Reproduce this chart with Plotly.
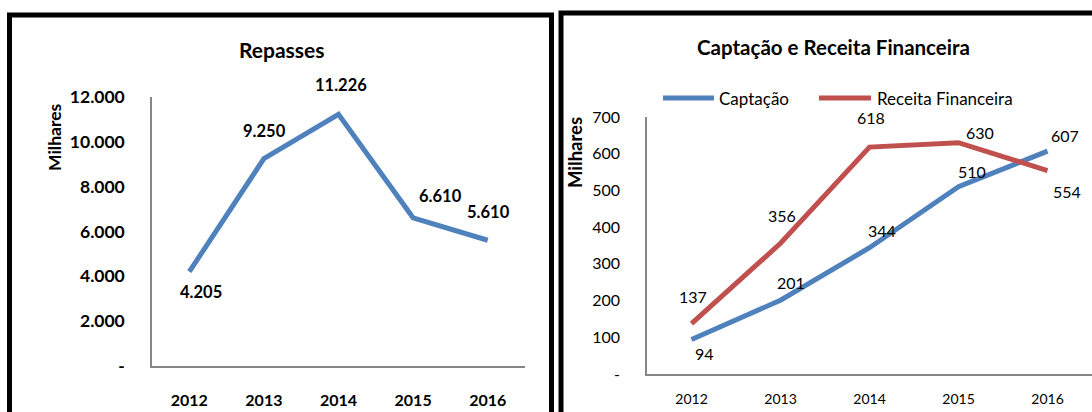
import plotly.graph_objects as go

# ---------------- data ----------------
years = ["2012", "2013", "2014", "2015", "2016"]
repasses = [4205, 9250, 11226, 6610, 5610]
repasses_labels = ["4.205", "9.250", "11.226", "6.610", "5.610"]

captacao = [94, 201, 344, 510, 607]
receita = [137, 356, 618, 630, 554]

left_yticks = [0, 2000, 4000, 6000, 8000, 10000, 12000]
left_yticktext = ["-", "2.000", "4.000", "6.000", "8.000", "10.000", "12.000"]
right_yticks = [0, 100, 200, 300, 400, 500, 600, 700]
right_yticktext = ["-", "100", "200", "300", "400", "500", "600", "700"]

# label offsets in pixels (dx, dy with dy positive downwards)
rep_off = [(12, 20), (1, -28), (2, -29), (27, -22), (1, -28)]
cap_off = [(13, 14), (10, -18), (12, -17), (13, -15), (17, -16)]
rec_off = [(1, -27), (1, -28), (1, -30), (21, -10), (19, 21)]

W, H = 1092, 412
FONT = "Lato"
BLUE = "#4F81BD"
RED = "#C0504D"
AXIS = "#868686"


def px(x):
    return x / W


def py(y):
    return 1 - y / H


fig = go.Figure()

fig.add_trace(go.Scatter(x=years, y=repasses, mode="lines", name="Repasses",
                         line=dict(color=BLUE, width=5), xaxis="x", yaxis="y",
                         showlegend=False, hoverinfo="skip"))
fig.add_trace(go.Scatter(x=years, y=captacao, mode="lines", name="Captação",
                         line=dict(color=BLUE, width=5), xaxis="x2", yaxis="y2",
                         showlegend=False, hoverinfo="skip"))
fig.add_trace(go.Scatter(x=years, y=receita, mode="lines", name="Receita Financeira",
                         line=dict(color=RED, width=5), xaxis="x2", yaxis="y2",
                         showlegend=False, hoverinfo="skip"))

annotations = []
for i, (v, t, (dx, dy)) in enumerate(zip(repasses, repasses_labels, rep_off)):
    annotations.append(dict(x=i, y=v, xref="x", yref="y", text="<b>" + t + "</b>",
                            showarrow=False, xshift=dx, yshift=-dy,
                            font=dict(family=FONT, size=16.5, color="#000"),
                            xanchor="center", yanchor="middle"))
for i, (v, (dx, dy)) in enumerate(zip(captacao, cap_off)):
    annotations.append(dict(x=i, y=v, xref="x2", yref="y2", text=str(v), showarrow=False,
                            xshift=dx, yshift=-dy,
                            font=dict(family=FONT, size=16, color="#000"),
                            xanchor="center", yanchor="middle"))
for i, (v, (dx, dy)) in enumerate(zip(receita, rec_off)):
    annotations.append(dict(x=i, y=v, xref="x2", yref="y2", text=str(v), showarrow=False,
                            xshift=dx, yshift=-dy,
                            font=dict(family=FONT, size=16, color="#000"),
                            xanchor="center", yanchor="middle"))

# titles
annotations.append(dict(x=px(282), y=py(50), xref="paper", yref="paper",
                        text="<b>Repasses</b>", showarrow=False,
                        font=dict(family=FONT, size=21, color="#000"),
                        xanchor="center", yanchor="middle"))
annotations.append(dict(x=px(833), y=py(47), xref="paper", yref="paper",
                        text="<b>Captação e Receita Financeira</b>", showarrow=False,
                        font=dict(family=FONT, size=20.5, color="#000"),
                        xanchor="center", yanchor="middle"))
# y axis titles
annotations.append(dict(x=px(55), y=py(137), xref="paper", yref="paper",
                        text="<b>Milhares</b>", showarrow=False, textangle=-90,
                        font=dict(family=FONT, size=17.5, color="#000"),
                        xanchor="center", yanchor="middle"))
annotations.append(dict(x=px(575), y=py(153), xref="paper", yref="paper",
                        text="<b>Milhares</b>", showarrow=False, textangle=-90,
                        font=dict(family=FONT, size=18.5, color="#000"),
                        xanchor="center", yanchor="middle"))
# legend texts
annotations.append(dict(x=px(717), y=py(98), xref="paper", yref="paper",
                        text="Captação", showarrow=False,
                        font=dict(family=FONT, size=17, color="#000"),
                        xanchor="left", yanchor="middle"))
annotations.append(dict(x=px(875), y=py(98), xref="paper", yref="paper",
                        text="Receita Financeira", showarrow=False,
                        font=dict(family=FONT, size=17, color="#000"),
                        xanchor="left", yanchor="middle"))

shapes = [
    # panel borders
    dict(type="rect", xref="paper", yref="paper", x0=px(9.5), x1=px(551.5),
         y0=py(440), y1=py(15), line=dict(color="#000", width=5), fillcolor="rgba(0,0,0,0)"),
    dict(type="rect", xref="paper", yref="paper", x0=px(561), x1=px(1120),
         y0=py(440), y1=py(13), line=dict(color="#000", width=5), fillcolor="rgba(0,0,0,0)"),
    # legend samples
    dict(type="line", xref="paper", yref="paper", x0=px(663), x1=px(714),
         y0=py(98), y1=py(98), line=dict(color=BLUE, width=5)),
    dict(type="line", xref="paper", yref="paper", x0=px(819), x1=px(871),
         y0=py(98), y1=py(98), line=dict(color=RED, width=5)),
]

axis_common = dict(showgrid=False, zeroline=False, showline=True, linecolor=AXIS,
                   linewidth=1.5, ticks="", fixedrange=True, automargin=False)

fig.update_layout(
    template="none",
    width=W, height=H, autosize=False,
    margin=dict(l=0, r=0, t=0, b=0, pad=0),
    paper_bgcolor="white", plot_bgcolor="white",
    showlegend=False,
    font=dict(family=FONT, color="#000"),
    xaxis=dict(domain=[px(152), px(525)], anchor="y", type="category",
               range=[-0.5, 4.5], ticklabelstandoff=19,
               tickfont=dict(family=FONT, size=16, color="#000", weight="bold"),
               **axis_common),
    yaxis=dict(domain=[py(366), py(97)], anchor="x", range=[0, 12000],
               tickvals=left_yticks, ticktext=left_yticktext, ticklabelstandoff=22,
               tickfont=dict(family=FONT, size=17.5, color="#000", weight="bold"),
               **axis_common),
    xaxis2=dict(domain=[px(647), 1.0], anchor="y2", type="category",
                range=[-0.5, 4.5], ticklabelstandoff=11,
                tickfont=dict(family=FONT, size=14, color="#000"),
                **axis_common),
    yaxis2=dict(domain=[py(374), py(117)], anchor="x2", range=[0, 700],
                tickvals=right_yticks, ticktext=right_yticktext, ticklabelstandoff=22,
                tickfont=dict(family=FONT, size=16, color="#000"),
                **axis_common),
    annotations=annotations,
    shapes=shapes,
)

fig.write_html("out.html", config={"displayModeBar": False},
               post_script="document.body.style.margin='0';document.body.style.overflow='hidden';")
